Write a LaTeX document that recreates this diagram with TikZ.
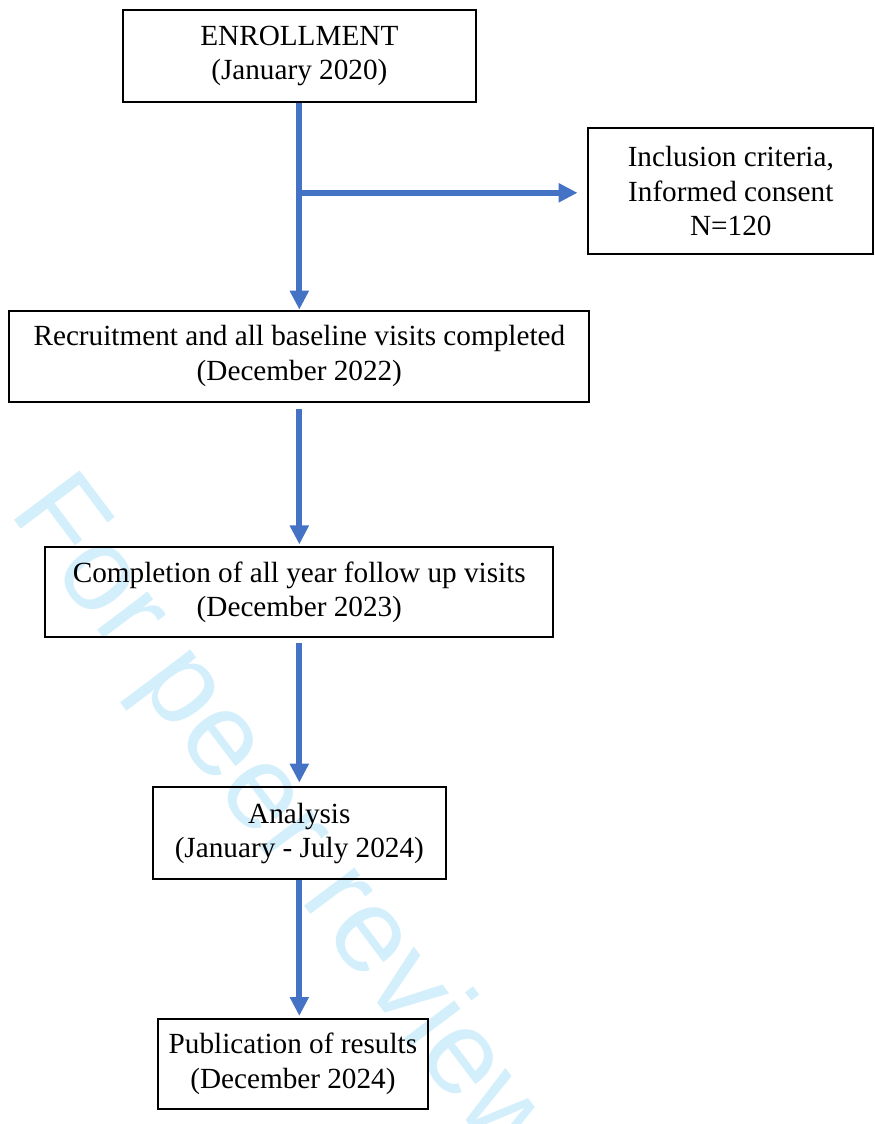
\documentclass[tikz,border=0pt]{standalone}
\usepackage{fontspec}
\setmainfont{Liberation Serif}
\newfontfamily\markfont{Liberation Sans}
\usepackage{xcolor}
\usepackage{tikz}
\usetikzlibrary{arrows.meta,positioning}
\definecolor{flowblue}{RGB}{68,114,196}
\definecolor{markblue}{RGB}{212,239,252}

\begin{document}
\begin{tikzpicture}[
  font=\fontsize{22}{26}\selectfont,
  phase/.style={draw, line width=1.5pt, align=center, inner sep=0pt},
  arr/.style={flowblue, line width=4.5pt, -{Triangle[length=0.5cm, width=0.48cm]}}
]
\useasboundingbox (0,0) rectangle (23.15,-29.74);
\begin{scope}
  \clip (0,0) rectangle (23.15,-29.74);
  \node[anchor=base west, rotate=-53, inner sep=0pt, text=markblue,
    font=\markfont\fontsize{90}{90}\selectfont] (mark) at (0.21,-13.55) {For peer review};
\end{scope}
\node[phase, minimum width=9.34cm, minimum height=2.43cm] (enroll) at (7.92,-1.48) {ENROLLMENT\\(January 2020)};
\coordinate[below=2.38cm of enroll.south] (fork);
\node[phase, minimum width=7.54cm, minimum height=3.33cm, right=7.62cm of fork, yshift=0.04cm] (incl) {Inclusion criteria,\\Informed consent\\N=120};
\node[phase, minimum width=15.35cm, minimum height=2.41cm, below=5.47cm of enroll] (recruit) {Recruitment and all baseline visits completed\\(December 2022)};
\node[phase, minimum width=13.44cm, minimum height=2.38cm, below=3.8cm of recruit] (complete) {Completion of all year follow up visits\\(December 2023)};
\node[phase, minimum width=7.75cm, minimum height=2.43cm, below=3.92cm of complete] (analysis) {Analysis\\(January - July 2024)};
\node[phase, minimum width=7.14cm, minimum height=2.38cm, below=3.64cm of analysis, xshift=-0.17cm] (publ) {Publication of results\\(December 2024)};
\draw[arr] (enroll.south) -- (recruit.north);
\draw[arr, shorten >=0.26cm] (fork) -- (fork -| incl.west);
\draw[arr, shorten <=0.16cm, shorten >=0.05cm] (recruit.south) -- (complete.north);
\draw[arr, shorten <=0.13cm, shorten >=0.1cm] (complete.south) -- (analysis.north);
\draw[arr, shorten >=0.05cm] (analysis.south) -- (analysis.south |- publ.north);
\end{tikzpicture}
\end{document}
